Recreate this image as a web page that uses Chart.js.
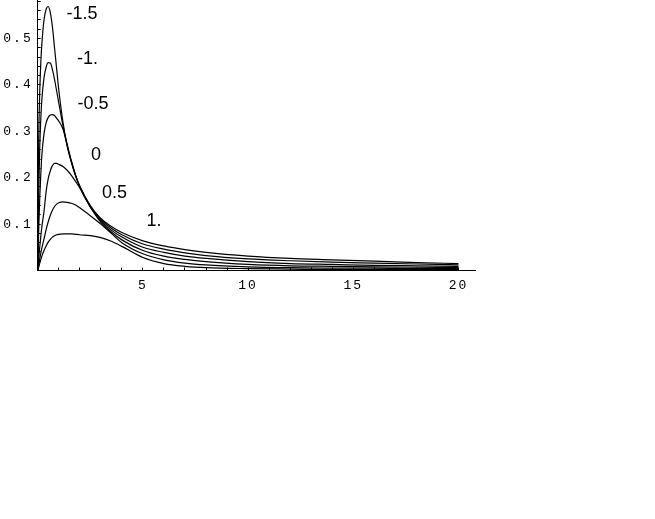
<!DOCTYPE html>
<html>
<head>
<meta charset="utf-8">
<script src="https://cdn.jsdelivr.net/npm/chart.js@4.4.1/dist/chart.umd.min.js"></script>
<style>
html,body{margin:0;padding:0;background:#fff;}
canvas{display:block;}
</style>
</head>
<body>
<canvas id="c" width="655" height="519"></canvas>
<script>
// ---- data ----
const xValues = [0, 0.02, 0.05, 0.1, 0.15, 0.2, 0.3, 0.4, 0.5, 0.6, 0.7, 0.8, 0.9, 1.0, 1.2, 1.4, 1.6, 1.8, 2.0, 2.5, 3, 3.5, 4, 5, 6, 7, 8, 10, 12, 14, 16, 18, 20];

const seriesM15 = [0, 0.16, 0.29, 0.39, 0.45, 0.49, 0.54, 0.563, 0.569, 0.556, 0.525, 0.48, 0.435, 0.39, 0.32, 0.27, 0.235, 0.205, 0.182, 0.14, 0.112, 0.095, 0.082, 0.064, 0.053, 0.045, 0.039, 0.031, 0.026, 0.023, 0.020, 0.017, 0.015];
const seriesM10 = [0, 0.08, 0.17, 0.27, 0.33, 0.37, 0.415, 0.438, 0.448, 0.447, 0.433, 0.412, 0.387, 0.362, 0.312, 0.268, 0.233, 0.204, 0.180, 0.138, 0.110, 0.091, 0.077, 0.057, 0.046, 0.038, 0.032, 0.025, 0.021, 0.018, 0.016, 0.014, 0.012];
const seriesM05 = [0, 0.04, 0.09, 0.16, 0.21, 0.25, 0.295, 0.318, 0.330, 0.335, 0.336, 0.334, 0.328, 0.322, 0.305, 0.272, 0.236, 0.206, 0.181, 0.137, 0.107, 0.087, 0.072, 0.050, 0.039, 0.031, 0.026, 0.019, 0.015, 0.013, 0.011, 0.010, 0.009];
const seriesP00 = [0, 0.01, 0.025, 0.052, 0.075, 0.095, 0.127, 0.17, 0.198, 0.215, 0.226, 0.231, 0.231, 0.229, 0.224, 0.216, 0.205, 0.192, 0.178, 0.137, 0.104, 0.083, 0.066, 0.043, 0.031, 0.024, 0.019, 0.013, 0.010, 0.009, 0.008, 0.007, 0.006];
const seriesP05 = [0, 0.005, 0.013, 0.026, 0.038, 0.049, 0.068, 0.088, 0.105, 0.119, 0.13, 0.138, 0.143, 0.146, 0.148, 0.147, 0.145, 0.141, 0.135, 0.118, 0.100, 0.080, 0.060, 0.036, 0.023, 0.016, 0.012, 0.008, 0.006, 0.005, 0.005, 0.004, 0.004];
const seriesP10 = [0, 0.003, 0.008, 0.016, 0.024, 0.031, 0.043, 0.053, 0.061, 0.067, 0.072, 0.075, 0.077, 0.078, 0.079, 0.079, 0.079, 0.078, 0.077, 0.075, 0.071, 0.063, 0.052, 0.028, 0.015, 0.009, 0.006, 0.004, 0.003, 0.002, 0.002, 0.002, 0.002];

const curveNames = ['-1.5', '-1.', '-0.5', '0', '0.5', '1.'];
const curveSeries = [seriesM15, seriesM10, seriesM05, seriesP00, seriesP05, seriesP10];

const xTickValues = [5, 10, 15, 20];
const xTickLabels = ['5', '10', '15', '20'];
const yTickValues = [0.1, 0.2, 0.3, 0.4, 0.5];
const yTickLabels = ['0.1', '0.2', '0.3', '0.4', '0.5'];

// label anchors (data coordinates) for the curve names
const curveLabelAnchors = [[2.11, 0.553], [2.37, 0.456], [2.63, 0.359], [2.77, 0.249], [3.65, 0.167], [5.53, 0.107]];

// ---- chart ----
const datasets = curveSeries.map((s, i) => ({
  label: curveNames[i],
  data: xValues.map((x, j) => ({x: x, y: s[j]})),
  borderColor: '#000',
  borderWidth: 1.2,
  pointRadius: 0,
  fill: false,
  cubicInterpolationMode: 'monotone'
}));

const spacingPlugin = {
  id: 'spacing',
  beforeDraw(chart) { chart.ctx.letterSpacing = '2px'; }
};

const curveLabelPlugin = {
  id: 'curveLabels',
  afterDatasetsDraw(chart) {
    const ctx = chart.ctx;
    const xs = chart.scales.x, ys = chart.scales.y;
    ctx.save();
    ctx.letterSpacing = '0px';
    ctx.fillStyle = '#000';
    ctx.font = '18px "Liberation Sans", Arial, sans-serif';
    ctx.textAlign = 'center';
    ctx.textBaseline = 'middle';
    curveNames.forEach((name, i) => {
      const a = curveLabelAnchors[i];
      ctx.fillText(name, xs.getPixelForValue(a[0]), ys.getPixelForValue(a[1]));
    });
    ctx.restore();
    ctx.letterSpacing = '2px';
  }
};

const tickFont = {family: '"Liberation Mono", "DejaVu Sans Mono", monospace', size: 13};

function zeroPad(s) { s.paddingTop = 0; s.paddingBottom = 0; s.paddingLeft = 0; s.paddingRight = 0; }

new Chart(document.getElementById('c'), {
  type: 'line',
  data: {datasets},
  options: {
    responsive: false,
    devicePixelRatio: 1,
    animation: false,
    events: [],
    layout: {padding: {left: 0, top: 0, right: 179.7, bottom: 218.5}},
    plugins: {legend: {display: false}, tooltip: {enabled: false}},
    scales: {
      x: {
        type: 'linear',
        position: 'bottom',
        min: 0,
        max: 20.8,
        afterFit(s) { s.height = 30; zeroPad(s); },
        border: {display: true, color: '#000', width: 1},
        grid: {drawOnChartArea: false, drawTicks: true, tickLength: -3, tickColor: '#000', tickWidth: 1},
        ticks: {
          stepSize: 1,
          includeBounds: false,
          autoSkip: false,
          maxRotation: 0,
          maxTicksLimit: 100,
          padding: 10,
          color: '#000',
          font: tickFont,
          callback(v) {
            const k = xTickValues.indexOf(Math.round(v * 1000) / 1000);
            return k >= 0 ? xTickLabels[k] : '';
          }
        }
      },
      y: {
        type: 'linear',
        position: 'left',
        min: 0,
        max: 0.583,
        afterFit(s) { s.width = 37.7; zeroPad(s); },
        border: {display: true, color: '#000', width: 1},
        grid: {drawOnChartArea: false, drawTicks: true, tickLength: -3, tickColor: '#000', tickWidth: 1},
        ticks: {
          stepSize: 0.02,
          includeBounds: false,
          autoSkip: false,
          maxTicksLimit: 100,
          padding: 8,
          color: '#000',
          font: tickFont,
          callback(v) {
            const r = Math.round(v * 100) / 100;
            const k = yTickValues.findIndex(t => Math.abs(t - r) < 1e-6);
            return k >= 0 ? yTickLabels[k] : '';
          }
        }
      }
    }
  },
  plugins: [spacingPlugin, curveLabelPlugin]
});
</script>
</body>
</html>
